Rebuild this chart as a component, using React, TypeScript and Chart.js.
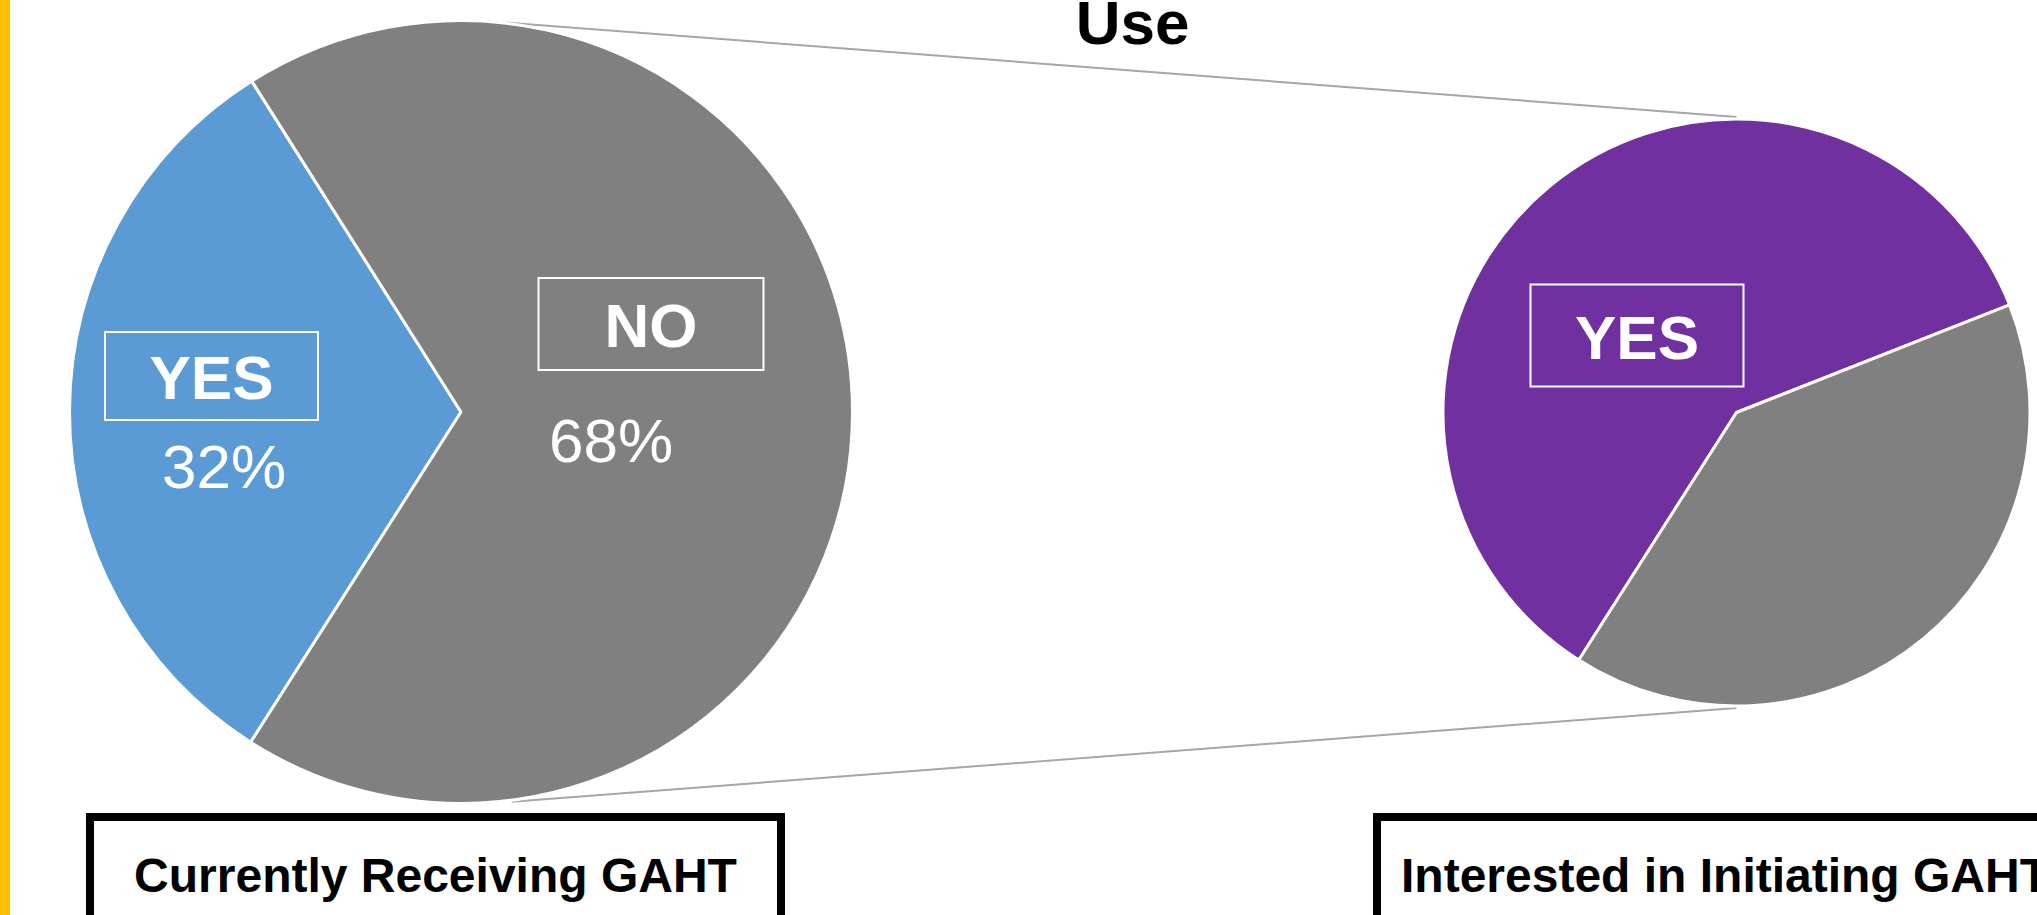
import React, { useEffect, useRef } from 'react';
import { Chart, registerables } from 'chart.js';

Chart.register(...registerables);

// ---- data ----
const sliceLabels = ['YES', 'NO'];
const receivingValues = [32, 68];
const initiatingValues = [60, 40];
const receivingColors = ['#5B9BD5', '#808080'];
const initiatingColors = ['#7030A0', '#808080'];
const titleText = 'Use';
const receivingCaption = 'Currently Receiving GAHT';
const initiatingCaption = 'Interested in Initiating GAHT';

// ---- layout ----
const W = 2037;
const H = 915;
const FONT = '"Liberation Sans", Arial, Helvetica, sans-serif';
const START_ROTATION = 212.5;

const LEFT_PIE = { cx: 461, cy: 412, r: 391.5, size: 800 };
const RIGHT_PIE = { cx: 1736.5, cy: 412.5, r: 293.5, size: 601 };

type SliceNote = {
  index: number;
  box?: { dx: number; dy: number; w: number; h: number };
  pct?: { dx: number; dy: number };
};

// label boxes, placed relative to the pie centre
const receivingNotes: SliceNote[] = [
  { index: 0, box: { dx: -249.5, dy: -36, w: 213, h: 88 }, pct: { dx: -237, dy: 76 } },
  { index: 1, box: { dx: 190, dy: -88, w: 225, h: 92 }, pct: { dx: 150, dy: 50 } },
];
const initiatingNotes: SliceNote[] = [
  { index: 0, box: { dx: -99.5, dy: -77, w: 213, h: 102 } },
];

const sliceNotesPlugin = {
  id: 'sliceNotes',
  afterDatasetsDraw(chart: any, _args: any, opts: any) {
    const notes: SliceNote[] = opts.notes || [];
    const meta = chart.getDatasetMeta(0);
    const ds = chart.data.datasets[0];
    const ctx = chart.ctx;
    ctx.save();
    ctx.fillStyle = '#ffffff';
    ctx.strokeStyle = '#ffffff';
    ctx.textAlign = 'center';
    ctx.textBaseline = 'alphabetic';
    for (const n of notes) {
      const arc = meta.data[n.index];
      if (!arc) continue;
      const cx = arc.x;
      const cy = arc.y;
      if (n.box) {
        const bx = cx + n.box.dx;
        const by = cy + n.box.dy;
        ctx.lineWidth = 2;
        ctx.strokeRect(bx - n.box.w / 2, by - n.box.h / 2, n.box.w, n.box.h);
        ctx.font = `bold 62px ${FONT}`;
        ctx.fillText(String(chart.data.labels[n.index]), bx, by + 23);
      }
      if (n.pct) {
        ctx.font = `62px ${FONT}`;
        ctx.fillText(`${ds.data[n.index]}%`, cx + n.pct.dx, cy + n.pct.dy);
      }
    }
    ctx.restore();
  },
};

function buildPie(
  canvas: HTMLCanvasElement,
  values: number[],
  colors: string[],
  radius: number,
  notes: SliceNote[]
) {
  return new Chart(canvas, {
    type: 'pie',
    data: {
      labels: sliceLabels,
      datasets: [
        {
          data: values,
          backgroundColor: colors,
          borderColor: '#ffffff',
          borderWidth: 3,
        },
      ],
    },
    options: {
      responsive: false,
      animation: false,
      events: [],
      radius,
      rotation: START_ROTATION,
      layout: { padding: 0 },
      plugins: {
        legend: { display: false },
        tooltip: { enabled: false },
        title: { display: false },
        sliceNotes: { notes },
      } as any,
    } as any,
    plugins: [sliceNotesPlugin],
  });
}

function polar(cx: number, cy: number, r: number, deg: number) {
  const a = (deg * Math.PI) / 180;
  return { x: cx + r * Math.cos(a), y: cy + r * Math.sin(a) };
}

export default function App() {
  const leftRef = useRef<HTMLCanvasElement | null>(null);
  const rightRef = useRef<HTMLCanvasElement | null>(null);

  useEffect(() => {
    document.body.style.margin = '0';
    const a = buildPie(leftRef.current!, receivingValues, receivingColors, LEFT_PIE.r, receivingNotes);
    const b = buildPie(rightRef.current!, initiatingValues, initiatingColors, RIGHT_PIE.r, initiatingNotes);
    return () => {
      a.destroy();
      b.destroy();
    };
  }, []);

  // connector lines from the first pie to the second one
  const topStart = polar(LEFT_PIE.cx, LEFT_PIE.cy, 392, -83.6);
  const botStart = polar(LEFT_PIE.cx, LEFT_PIE.cy, 393, 82.6);
  const topEnd = { x: RIGHT_PIE.cx, y: RIGHT_PIE.cy - RIGHT_PIE.r - 2 };
  const botEnd = { x: RIGHT_PIE.cx, y: RIGHT_PIE.cy + RIGHT_PIE.r + 2 };

  const leftBox = { x: 86, w: 699 };
  const rightBox = { x: 1373, w: 704 };
  const boxTop = 813;
  const boxStroke = 8;

  return (
    <div
      style={{
        position: 'fixed',
        left: 0,
        top: 0,
        width: W,
        height: H,
        background: '#ffffff',
        overflow: 'hidden',
      }}
    >
      <svg
        width={W}
        height={H}
        style={{ position: 'absolute', left: 0, top: 0 }}
        fontFamily={FONT}
      >
        <rect x={0} y={0} width={10} height={H} fill="#FFC000" />
        <line x1={topStart.x} y1={topStart.y} x2={topEnd.x} y2={topEnd.y} stroke="#A6A6A6" strokeWidth={2} />
        <line x1={botStart.x} y1={botStart.y} x2={botEnd.x} y2={botEnd.y} stroke="#A6A6A6" strokeWidth={2} />
        <text x={1132.5} y={44} textAnchor="middle" fontWeight="bold" fontSize={62} fill="#000">
          {titleText}
        </text>
        <rect
          x={leftBox.x + boxStroke / 2}
          y={boxTop + boxStroke / 2}
          width={leftBox.w - boxStroke}
          height={200}
          fill="none"
          stroke="#000"
          strokeWidth={boxStroke}
        />
        <text x={leftBox.x + leftBox.w / 2} y={892} textAnchor="middle" fontWeight="bold" fontSize={48} fill="#000">
          {receivingCaption}
        </text>
        <rect
          x={rightBox.x + boxStroke / 2}
          y={boxTop + boxStroke / 2}
          width={rightBox.w - boxStroke}
          height={200}
          fill="none"
          stroke="#000"
          strokeWidth={boxStroke}
        />
        <text x={rightBox.x + rightBox.w / 2} y={892} textAnchor="middle" fontWeight="bold" fontSize={48} fill="#000">
          {initiatingCaption}
        </text>
      </svg>
      <canvas
        ref={leftRef}
        width={LEFT_PIE.size}
        height={LEFT_PIE.size}
        style={{
          position: 'absolute',
          left: LEFT_PIE.cx - LEFT_PIE.size / 2,
          top: LEFT_PIE.cy - LEFT_PIE.size / 2,
          width: LEFT_PIE.size,
          height: LEFT_PIE.size,
        }}
      />
      <canvas
        ref={rightRef}
        width={RIGHT_PIE.size}
        height={RIGHT_PIE.size}
        style={{
          position: 'absolute',
          left: RIGHT_PIE.cx - RIGHT_PIE.size / 2,
          top: RIGHT_PIE.cy - RIGHT_PIE.size / 2,
          width: RIGHT_PIE.size,
          height: RIGHT_PIE.size,
        }}
      />
    </div>
  );
}
